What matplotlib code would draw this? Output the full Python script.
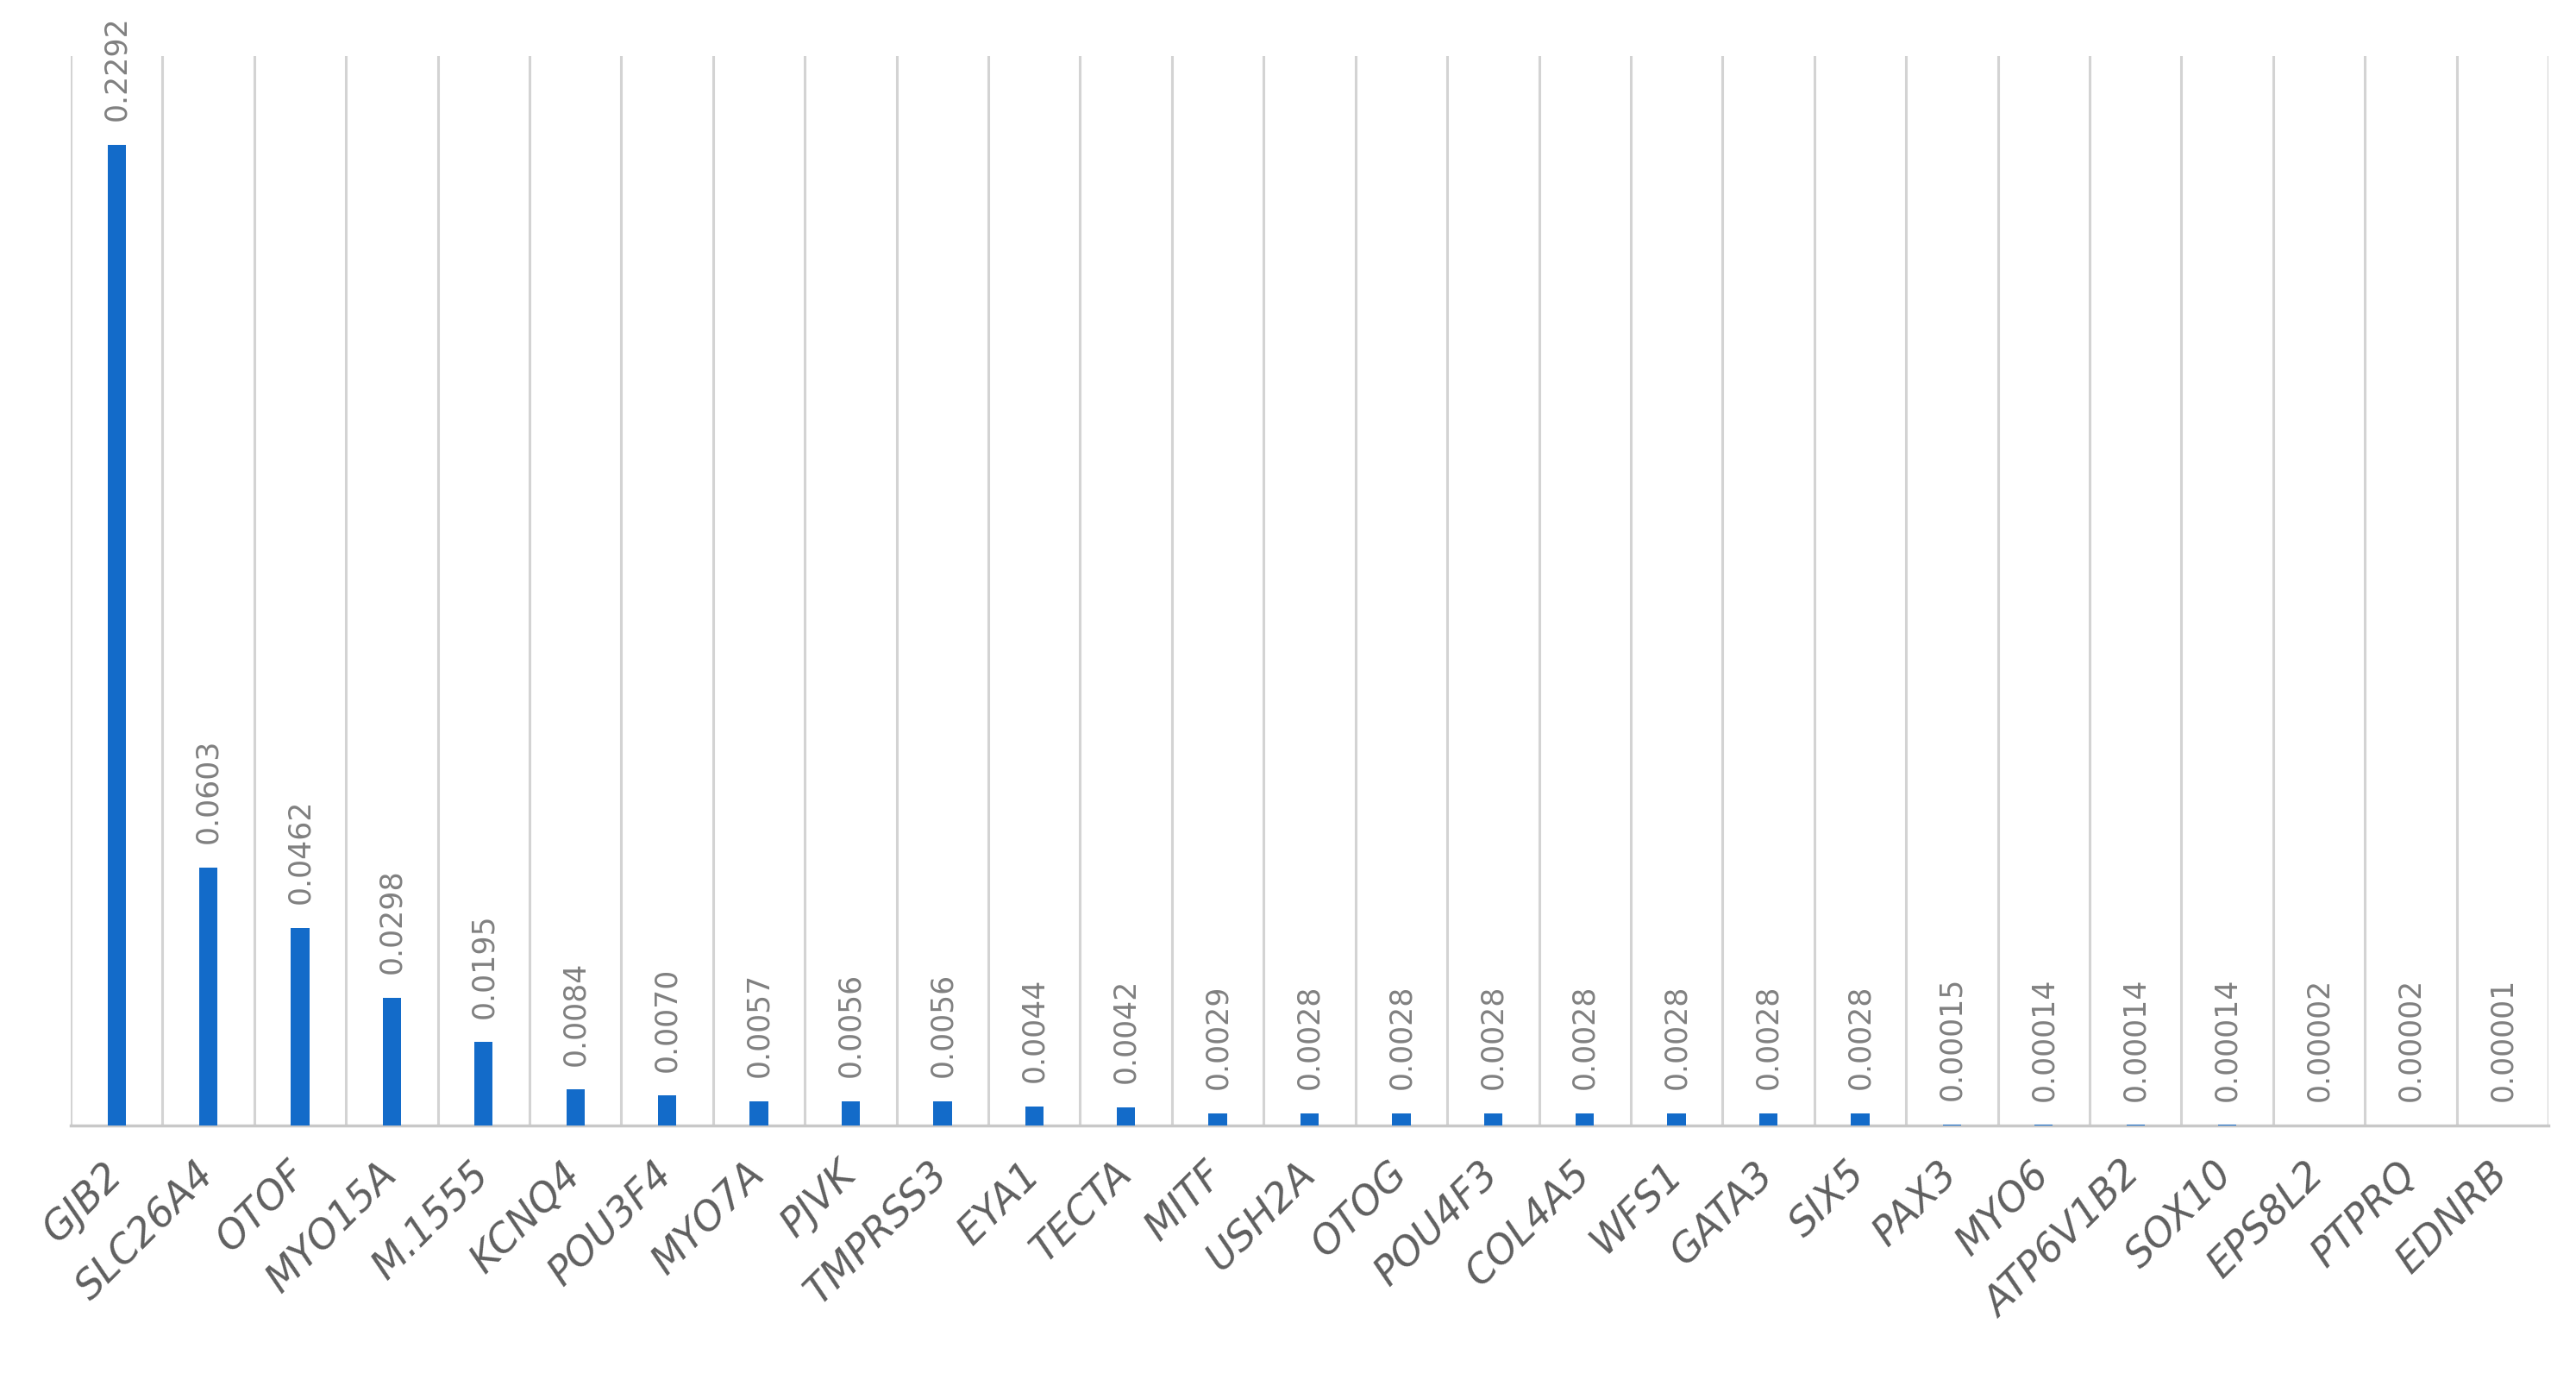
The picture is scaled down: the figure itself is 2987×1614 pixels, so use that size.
import matplotlib
matplotlib.use("Agg")
import matplotlib.pyplot as plt
import numpy as np

# gene names and their frequencies
genes = ['GJB2', 'SLC26A4', 'OTOF', 'MYO15A', 'M.1555', 'KCNQ4', 'POU3F4',
         'MYO7A', 'PJVK', 'TMPRSS3', 'EYA1', 'TECTA', 'MITF', 'USH2A', 'OTOG',
         'POU4F3', 'COL4A5', 'WFS1', 'GATA3', 'SIX5', 'PAX3', 'MYO6',
         'ATP6V1B2', 'SOX10', 'EPS8L2', 'PTPRQ', 'EDNRB']
freq = [0.2292, 0.0603, 0.0462, 0.0298, 0.0195, 0.0084, 0.0070,
        0.0057, 0.0056, 0.0056, 0.0044, 0.0042, 0.0029, 0.0028, 0.0028,
        0.0028, 0.0028, 0.0028, 0.0028, 0.0028, 0.00015, 0.00014,
        0.00014, 0.00014, 0.00002, 0.00002, 0.00001]

bar_color = '#136bc9'
grid_color = '#d3d3d3'
label_color = '#808080'
tick_color = '#5f5f5f'

fig = plt.figure(figsize=(29.87, 16.14), dpi=100)
ax = fig.add_axes([82 / 2987, 1 - 1305 / 1614, (2955 - 82) / 2987, (1305 - 65) / 1614])

x = np.arange(len(genes))
ax.bar(x, freq, width=0.2, color=bar_color, zorder=3)

# data labels, rotated, above each bar
for xi, v in zip(x, freq):
    txt = f'{v:.5f}' if v < 0.001 else f'{v:.4f}'
    ax.annotate(txt, (xi, v), xytext=(0, 20), textcoords='offset points',
                rotation=90, ha='center', va='bottom', fontsize=25,
                color=label_color, annotation_clip=False)

# vertical separators between categories
for b in np.arange(-0.5, len(genes), 1.0):
    ax.axvline(b, color=grid_color, lw=2.2, zorder=1)

ax.set_xlim(-0.5, len(genes) - 0.5)
ax.set_ylim(0, 0.25)

for s in ['top', 'left', 'right']:
    ax.spines[s].set_visible(False)
ax.spines['bottom'].set_color('#c8c8c8')
ax.spines['bottom'].set_linewidth(2.5)

ax.set_yticks([])
ax.set_xticks(x)
ax.set_xticklabels(genes, rotation=45, ha='right', va='center',
                   rotation_mode='anchor', fontsize=33, style='italic',
                   color=tick_color)
ax.tick_params(axis='x', length=0, pad=36)

fig.savefig('out.png', dpi=100, facecolor='white')
